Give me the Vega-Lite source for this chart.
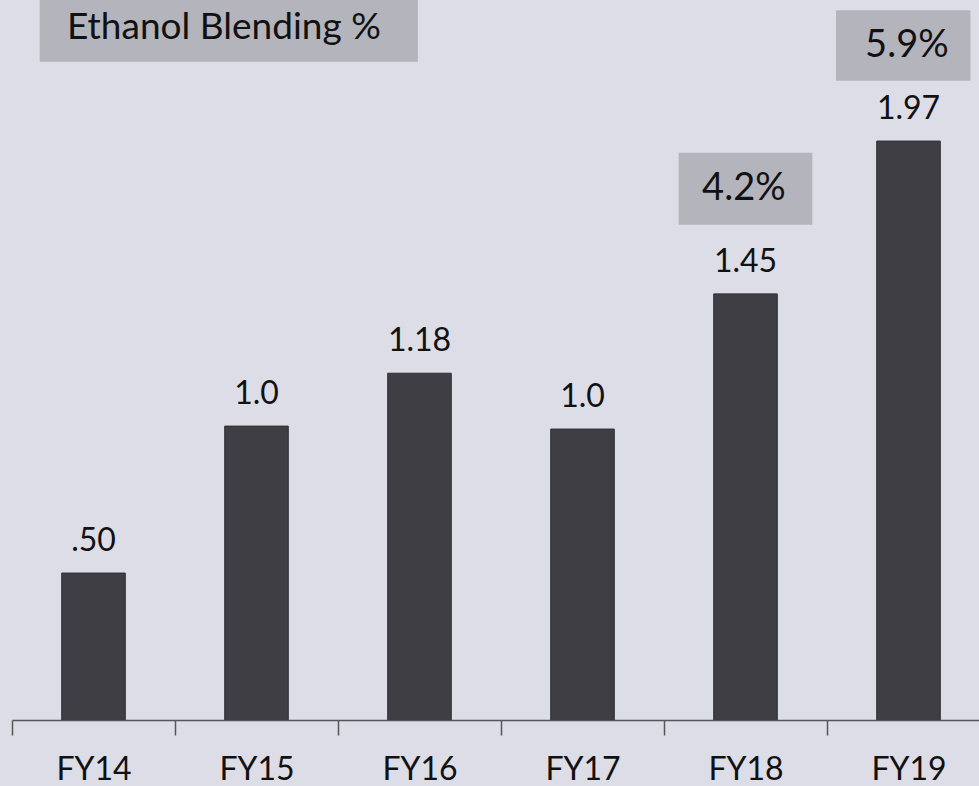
{
  "$schema": "https://vega.github.io/schema/vega-lite/v6.json",
  "autosize": "none",
  "width": 978,
  "height": 720,
  "padding": {"left": 12, "top": 0, "right": 0, "bottom": 66},
  "background": "#dddde7",
  "config": {"view": {"stroke": null}, "font": "Lato"},
  "datasets": {
    "bars": [
      {"year": "FY14", "value": 0.50, "label": ".50"},
      {"year": "FY15", "value": 1.0, "label": "1.0"},
      {"year": "FY16", "value": 1.18, "label": "1.18"},
      {"year": "FY17", "value": 0.99, "label": "1.0"},
      {"year": "FY18", "value": 1.45, "label": "1.45"},
      {"year": "FY19", "value": 1.97, "label": "1.97"}
    ],
    "boxes": [
      {"year": "FY18", "label": "4.2%", "top": 1.93, "bottom": 1.685, "mid": 1.807},
      {"year": "FY19", "label": "5.9%", "top": 2.415, "bottom": 2.175, "mid": 2.295}
    ],
    "heading": [
      {"from": "FY14", "to": "FY16", "mid": "FY15", "label": "Ethanol Blending %", "top": 2.46, "bottom": 2.24, "ymid": 2.355}
    ]
  },
  "encoding": {
    "x": {
      "field": "year",
      "type": "nominal",
      "scale": {"domain": ["FY14", "FY15", "FY16", "FY17", "FY18", "FY19"], "paddingInner": 0, "paddingOuter": 0},
      "axis": {
        "title": null,
        "labelAngle": 0,
        "tickBand": "extent",
        "domainColor": "#55555a",
        "domainWidth": 1.5,
        "tickColor": "#55555a",
        "tickWidth": 1.5,
        "tickSize": 15,
        "labelFont": "Lato",
        "labelFontSize": 32,
        "labelColor": "#111111",
        "labelBaseline": "alphabetic",
        "labelPadding": 44
      }
    }
  },
  "layer": [
    {
      "data": {"name": "heading"},
      "mark": {"type": "rect", "color": "#b4b4bc"},
      "encoding": {
        "x": {"field": "from", "type": "nominal", "bandPosition": 0.17},
        "x2": {"field": "to", "bandPosition": 0.49},
        "y": {"field": "top", "type": "quantitative", "scale": {"domain": [0, 2.45], "nice": false}, "axis": null},
        "y2": {"field": "bottom"}
      }
    },
    {
      "data": {"name": "heading"},
      "mark": {"type": "text", "fontSize": 37, "color": "#111111", "baseline": "middle", "align": "center"},
      "encoding": {
        "x": {"field": "mid", "type": "nominal", "bandPosition": 0.3},
        "y": {"field": "ymid", "type": "quantitative"},
        "text": {"field": "label"}
      }
    },
    {
      "data": {"name": "boxes"},
      "transform": [{"filter": "datum.year === 'FY18'"}],
      "mark": {"type": "rect", "color": "#b4b4bc"},
      "encoding": {
        "x": {"field": "year", "type": "nominal", "bandPosition": 0.09},
        "x2": {"field": "year", "bandPosition": 0.91},
        "y": {"field": "top", "type": "quantitative"},
        "y2": {"field": "bottom"}
      }
    },
    {
      "data": {"name": "boxes"},
      "transform": [{"filter": "datum.year === 'FY19'"}],
      "mark": {"type": "rect", "color": "#b4b4bc"},
      "encoding": {
        "x": {"field": "year", "type": "nominal", "bandPosition": 0.055},
        "x2": {"field": "year", "bandPosition": 0.88},
        "y": {"field": "top", "type": "quantitative"},
        "y2": {"field": "bottom"}
      }
    },
    {
      "data": {"name": "boxes"},
      "mark": {"type": "text", "fontSize": 38, "color": "#111111", "baseline": "middle", "align": "center"},
      "encoding": {
        "x": {"field": "year", "type": "nominal", "bandPosition": 0.49},
        "y": {"field": "mid", "type": "quantitative"},
        "text": {"field": "label"}
      }
    },
    {
      "data": {"name": "bars"},
      "mark": {"type": "bar", "color": "#3e3e44", "stroke": "#2e2e33", "strokeWidth": 1, "width": {"band": 0.39}},
      "encoding": {
        "y": {"field": "value", "type": "quantitative"}
      }
    },
    {
      "data": {"name": "bars"},
      "mark": {"type": "text", "fontSize": 32, "color": "#111111", "baseline": "alphabetic", "dy": -22},
      "encoding": {
        "y": {"field": "value", "type": "quantitative"},
        "text": {"field": "label"}
      }
    }
  ]
}
